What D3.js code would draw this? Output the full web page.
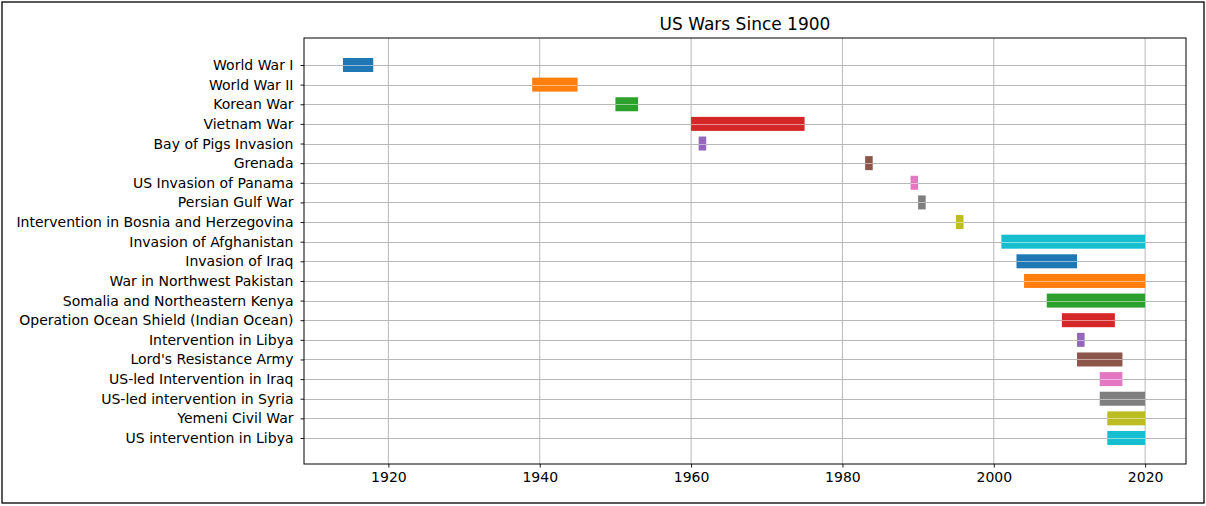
<!DOCTYPE html>
<html><head><meta charset="utf-8">
<script src="https://cdn.jsdelivr.net/npm/d3@7"></script>
<style>body{margin:0;background:#fff;} svg{display:block;font-family:"DejaVu Sans",sans-serif;}</style>
</head><body>
<svg id="c" width="1206" height="506"></svg>
<script>
const wars = ["World War I","World War II","Korean War","Vietnam War","Bay of Pigs Invasion","Grenada","US Invasion of Panama","Persian Gulf War","Intervention in Bosnia and Herzegovina","Invasion of Afghanistan","Invasion of Iraq","War in Northwest Pakistan","Somalia and Northeastern Kenya","Operation Ocean Shield (Indian Ocean)","Intervention in Libya","Lord's Resistance Army","US-led Intervention in Iraq","US-led intervention in Syria","Yemeni Civil War","US intervention in Libya"];
const startYears = [1914,1939,1950,1960,1961,1983,1989,1990,1995,2001,2003,2004,2007,2009,2011,2011,2014,2014,2015,2015];
const endYears   = [1918,1945,1953,1975,1962,1984,1990,1991,1996,2020,2011,2020,2020,2016,2012,2017,2017,2020,2020,2020];
const xTicks = [1920,1940,1960,1980,2000,2020];
const palette = ["#1f77b4","#ff7f0e","#2ca02c","#d62728","#9467bd","#8c564b","#e377c2","#7f7f7f","#bcbd22","#17becf"];
const title = "US Wars Since 1900";

const svg = d3.select("#c");
svg.append("rect").attr("x",2).attr("y",2).attr("width",1202).attr("height",501).attr("fill","none").attr("stroke","#000").attr("stroke-width",1.3);

const L=304, R=1186, T=38, B=464;
const x = d3.scaleLinear().domain([1908.85,2025.4]).range([L,R]);
const y = d3.scaleLinear().domain([-1.375,20.325]).range([T,B]);
const bh = 14;

const g = svg.append("g");
g.selectAll(".vg").data(xTicks).join("line").attr("x1",d=>x(d)).attr("x2",d=>x(d)).attr("y1",T).attr("y2",B).attr("stroke","#b0b0b0").attr("stroke-width",0.9);
g.selectAll(".hg").data(wars).join("line").attr("x1",L).attr("x2",R).attr("y1",(d,i)=>Math.round(y(i))+0.5).attr("y2",(d,i)=>Math.round(y(i))+0.5).attr("stroke","#b0b0b0").attr("stroke-width",0.9);
g.selectAll(".bar").data(wars).join("rect")
 .attr("x",(d,i)=>x(startYears[i])).attr("width",(d,i)=>x(endYears[i])-x(startYears[i]))
 .attr("y",(d,i)=>y(i)-bh/2).attr("height",bh).attr("fill",(d,i)=>palette[i%10]);
g.selectAll(".og").data(wars).join("line")
 .attr("x1",(d,i)=>x(startYears[i])).attr("x2",(d,i)=>x(endYears[i]))
 .attr("y1",(d,i)=>Math.round(y(i))+0.5).attr("y2",(d,i)=>Math.round(y(i))+0.5).attr("stroke","#fff").attr("stroke-opacity",0.55).attr("stroke-width",0.9);

const xa = svg.append("g").attr("transform",`translate(0,${B})`).call(d3.axisBottom(x).tickValues(xTicks).tickFormat(d3.format("d")).tickSize(3.5).tickPadding(5));
const ya = svg.append("g").attr("transform",`translate(${L},0)`).call(d3.axisLeft(y).tickValues(d3.range(wars.length)).tickFormat(i=>wars[i]).tickSize(3.5).tickPadding(7));
[xa,ya].forEach(a=>{a.select(".domain").remove(); a.selectAll("text").attr("font-size",14).attr("font-family","DejaVu Sans").attr("fill","#000"); a.selectAll("line").attr("stroke","#000").attr("stroke-width",0.9);});
svg.append("rect").attr("x",L).attr("y",T).attr("width",R-L).attr("height",B-T).attr("fill","none").attr("stroke","#000").attr("stroke-width",1);
svg.append("text").attr("x",(L+R)/2).attr("y",30).attr("text-anchor","middle").attr("font-size",17).attr("fill","#000").text(title);
</script>
</body></html>
